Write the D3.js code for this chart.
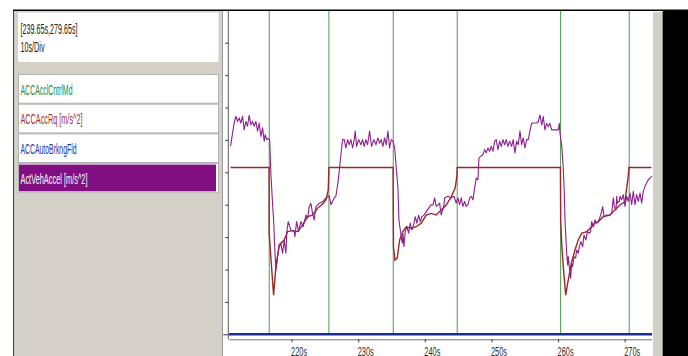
<!DOCTYPE html>
<html>
<head>
<meta charset="utf-8">
<script src="https://cdn.jsdelivr.net/npm/d3@7"></script>
<style>
  html, body { margin: 0; padding: 0; background: #ffffff; overflow: hidden; }
  svg { display: block; }
</style>
</head>
<body>
<svg id="chart" width="688" height="356"></svg>
<script>
// ---- signal data -------------------------------------------------------
const windowLabel = "[239.65s,279.65s]";
const divLabel = "10s/Div";
const signalNames = ["ACCAcclCntrlMd", "ACCAccRq [m/s^2]", "ACCAutoBrkngFld", "ActVehAccel [m/s^2]"];
const timeTicks = [220, 230, 240, 250, 260, 270];
const accelTicks = [-5, -4, -3, -2, -1, 0, 1, 2, 3, 4];

// ACCAcclCntrlMd: instants where the control mode switches (s)
const modeChangeTimes = [216.64, 225.6, 235.26, 244.86, 260.38, 270.68];

// ACCAutoBrkngFld: flag, stays 0
const autoBrkFld = [[210.6, 0], [274.1, 0]];

// ACCAccRq [m/s^2]: [time s, value]
const accRq = [
  [210.84,0.15],[216.62,0.15],[216.64,-1.90],[216.97,-2.86],[217.30,-3.79],[217.64,-2.91],
  [218.14,-2.24],[218.89,-2.09],[219.40,-1.83],[220.15,-1.80],[220.90,-1.83],[221.65,-1.63],
  [222.40,-1.37],[223.15,-1.32],[223.90,-1.11],[224.65,-0.98],[225.15,-0.85],[225.50,-0.55],
  [225.60,0.15],[235.24,0.15],[235.29,-2.30],[235.52,-2.71],[235.86,-2.65],[236.22,-2.09],
  [236.71,-1.83],[237.21,-1.68],[237.96,-1.73],[238.71,-1.68],[239.46,-1.57],[240.21,-1.32],
  [240.96,-1.27],[241.71,-1.32],[242.46,-1.16],[243.21,-1.01],[243.96,-0.76],[244.56,-0.48],
  [244.82,-0.11],[244.86,0.15],[260.35,0.15],[260.39,-1.47],[260.54,-2.19],[260.78,-2.91],
  [261.14,-3.79],[261.53,-3.32],[262.04,-2.76],[262.54,-2.40],[263.03,-2.09],[263.54,-1.88],
  [264.29,-1.83],[265.05,-1.68],[265.54,-1.57],[266.04,-1.52],[266.79,-1.37],[267.79,-1.32],
  [268.54,-1.16],[269.29,-1.01],[270.04,-0.91],[270.30,-0.48],[270.54,-0.11],[270.64,0.15],
  [274.02,0.15]
];

// ActVehAccel [m/s^2]: [time s, value]
const vehAccel = [
  [210.84,0.81],[211.14,1.21],[211.38,1.52],[211.64,1.73],[211.89,1.57],[212.13,1.68],[212.39,1.52],
  [212.64,1.73],[212.88,1.31],[213.14,1.57],[213.39,1.42],[213.63,1.76],[213.89,1.47],[214.14,1.57],
  [214.38,1.42],[214.64,1.57],[214.89,1.27],[215.14,1.52],[215.39,1.11],[215.65,1.37],[215.89,0.96],
  [216.04,1.16],[216.25,1.01],[216.55,1.04],[216.70,1.01],[216.90,-0.07],[217.15,-1.00],[217.30,-1.47],
  [217.49,-2.40],[217.64,-3.02],[217.79,-2.81],[217.90,-2.60],[218.14,-2.30],[218.39,-2.19],[218.65,-2.50],
  [218.89,-2.09],[219.14,-2.50],[219.29,-1.83],[219.49,-1.52],[219.89,-1.78],[220.39,-1.83],[220.50,-1.99],
  [220.75,-1.52],[221.05,-1.83],[221.40,-1.52],[221.74,-1.68],[222.15,-1.32],[222.40,-1.42],[222.64,-1.06],
  [222.90,-0.96],[223.15,-1.27],[223.39,-1.47],[223.65,-1.06],[224.14,-0.96],[224.65,-0.91],[225.15,-0.79],
  [225.65,-0.73],[225.91,-1.00],[226.40,-0.79],[226.66,-0.73],[226.92,-0.38],[227.15,0.03],[227.40,0.54],
  [227.66,1.01],[227.90,1.01],[228.15,0.75],[228.41,1.01],[228.65,0.85],[228.90,1.01],[229.16,0.75],
  [229.40,1.01],[229.55,1.27],[229.76,0.80],[230.06,1.01],[230.41,0.85],[230.66,1.01],[230.90,0.80],
  [231.16,1.01],[231.41,0.85],[231.71,1.27],[232.01,0.80],[232.36,1.01],[232.66,0.85],[232.96,1.06],
  [233.21,0.90],[233.45,1.01],[233.71,0.80],[233.96,1.06],[234.20,0.85],[234.46,1.27],[234.71,0.75],
  [234.96,1.01],[235.21,0.96],[235.47,0.75],[235.71,0.13],[235.96,-0.48],[236.11,-1.47],[236.31,-1.78],
  [236.46,-1.99],[236.61,-2.19],[236.71,-1.88],[236.86,-2.30],[237.06,-1.83],[237.31,-1.68],[237.57,-1.88],
  [237.81,-1.57],[238.06,-1.78],[238.32,-1.63],[238.56,-1.37],[238.81,-1.57],[239.07,-1.32],[239.31,-1.52],
  [239.56,-1.37],[239.86,-1.32],[240.21,-1.22],[240.72,-1.06],[240.96,-1.00],[241.22,-1.01],[241.47,-0.79],
  [241.71,-1.05],[241.97,-1.01],[242.22,-0.95],[242.46,-1.32],[242.87,-1.01],[242.97,-0.79],[243.47,-0.74],
  [243.96,-0.79],[244.37,-0.74],[244.71,-0.95],[244.96,-0.79],[245.22,-1.00],[245.46,-0.79],[245.72,-1.05],
  [245.98,-0.90],[246.22,-1.05],[246.47,-1.00],[246.73,-0.79],[246.97,-0.74],[247.22,-0.85],[247.48,-0.48],
  [247.72,-0.18],[247.97,-0.23],[248.12,0.44],[248.38,0.49],[248.72,0.54],[248.98,0.70],[249.22,0.60],
  [249.47,0.75],[249.73,0.65],[249.97,0.80],[250.23,0.65],[250.48,0.96],[250.72,1.01],[250.98,0.70],
  [251.23,0.96],[251.47,0.80],[251.73,1.01],[251.98,0.85],[252.22,1.01],[252.48,0.80],[252.73,0.96],
  [253.03,0.80],[253.27,1.01],[253.53,0.60],[253.78,0.96],[254.02,0.85],[254.28,1.27],[254.53,0.85],
  [254.77,1.06],[255.03,0.75],[255.28,1.01],[255.52,1.01],[255.78,1.27],[256.03,1.51],[256.27,1.52],
  [256.78,1.52],[257.03,1.56],[257.28,1.77],[257.54,1.46],[257.78,1.72],[258.03,1.31],[258.29,1.51],
  [258.53,1.41],[258.78,1.51],[259.04,1.31],[259.53,1.31],[260.03,1.31],[260.18,1.51],[260.29,1.20],
  [260.54,0.84],[260.78,0.13],[260.93,-0.59],[261.04,-1.47],[261.29,-2.50],[261.44,-2.86],[261.53,-2.60],
  [261.68,-2.91],[261.89,-3.27],[262.04,-2.81],[262.19,-2.91],[262.39,-2.60],[262.64,-2.65],[262.79,-2.40],
  [263.03,-2.50],[263.18,-2.30],[263.44,-2.14],[263.69,-2.30],[263.89,-1.94],[264.19,-2.09],[264.39,-1.83],
  [264.69,-1.88],[264.89,-1.83],[265.05,-1.52],[265.29,-1.68],[265.54,-1.47],[265.80,-1.57],[266.04,-1.52],
  [266.40,-1.32],[266.70,-1.06],[266.89,-1.37],[267.30,-1.32],[267.79,-1.32],[268.05,-1.27],[268.29,-0.79],
  [268.45,-1.06],[268.69,-1.16],[268.80,-0.74],[268.89,-0.96],[269.04,-0.90],[269.19,-0.91],[269.29,-0.74],
  [269.54,-0.85],[269.79,-0.69],[270.04,-1.05],[270.30,-0.74],[270.54,-0.90],[270.79,-0.64],[271.05,-1.00],
  [271.29,-0.59],[271.55,-1.00],[271.80,-0.69],[272.04,-0.90],[272.30,-0.64],[272.55,-0.95],[272.79,-0.59],
  [273.05,-0.43],[273.30,-0.33],[273.54,-0.23],[273.80,-0.18],[274.10,-0.12]
];

// ---- layout --------------------------------------------------------------
const svg = d3.select("#chart");
const FONT = "'Liberation Sans Narrow', 'Arial Narrow', 'Liberation Sans', Arial, sans-serif";
const panelGrey = "#d4d0c8";

const plot = { left: 228.3, right: 652, top: 10.3, bottom: 334.3, axisY: 339.3 };

const x = d3.scaleLinear().domain([210.5, 274.1]).range([plot.left, plot.right]);
const y = d3.scaleLinear().domain([-5, 5]).range([plot.bottom, plot.top]);
const yFlag = d3.scaleLinear().domain([0, 1]).range([plot.bottom, plot.top]);

// white page
svg.append("rect").attr("width", 688).attr("height", 356).attr("fill", "#ffffff");

// left signal panel
svg.append("rect").attr("x", 13).attr("y", 10).attr("width", 209.5).attr("height", 346).attr("fill", panelGrey);
svg.append("line").attr("x1", 13.5).attr("x2", 13.5).attr("y1", 10).attr("y2", 356)
  .attr("stroke", "#404040").attr("stroke-width", 1);
svg.append("line").attr("x1", 222.5).attr("x2", 222.5).attr("y1", 11).attr("y2", 356)
  .attr("stroke", "#9a9a9a").attr("stroke-width", 1);

// time window box
svg.append("rect").attr("x", 18).attr("y", 12.5).attr("width", 200.5).attr("height", 49.5).attr("fill", "#ffffff");
const infoText = svg.append("g").attr("font-family", FONT).attr("font-size", 14.5).attr("fill", "#1a1a1a");
infoText.append("text").attr("x", 20.5).attr("y", 34).text(windowLabel)
  .attr("textLength", 57).attr("lengthAdjust", "spacingAndGlyphs");
infoText.append("text").attr("x", 20.5).attr("y", 51.5).text(divLabel)
  .attr("textLength", 24).attr("lengthAdjust", "spacingAndGlyphs");

// signal legend boxes
const legendTop = 74, legendStep = 29.7;
const legendColors = ["#2b8a2b", "#a53030", "#27309c", "#ffffff"];
const legendWidths = [52, 62, 56, 67];
const legend = svg.append("g");
signalNames.forEach((name, i) => {
  const y0 = legendTop + i * legendStep;
  legend.append("rect").attr("x", 18.5).attr("y", y0 + 0.5).attr("width", 200).attr("height", legendStep - 1)
    .attr("fill", "#ffffff").attr("stroke", "#b4b4b4").attr("stroke-width", 1);
  if (i === signalNames.length - 1) {
    legend.append("rect").attr("x", 19).attr("y", y0 + 1.5).attr("width", 197).attr("height", legendStep - 3)
      .attr("fill", "#810f81");
  }
  legend.append("text").attr("x", 20.5).attr("y", y0 + 20.5)
    .attr("font-family", FONT).attr("font-size", 15).attr("fill", legendColors[i])
    .attr("textLength", legendWidths[i]).attr("lengthAdjust", "spacingAndGlyphs")
    .text(name);
});

// clip for the traces
svg.append("clipPath").attr("id", "plotClip")
  .append("rect").attr("x", plot.left).attr("y", plot.top).attr("width", plot.right - plot.left + 2)
  .attr("height", plot.axisY - plot.top);

const traces = svg.append("g").attr("clip-path", "url(#plotClip)");

// ACCAcclCntrlMd mode switches
traces.selectAll("line.mode").data(modeChangeTimes).join("line")
  .attr("class", "mode")
  .attr("x1", d => x(d)).attr("x2", d => x(d))
  .attr("y1", plot.top).attr("y2", plot.bottom)
  .attr("stroke", "#4c9c4c").attr("stroke-width", 1);

const line = d3.line().x(d => x(d[0])).y(d => y(d[1]));
const flagLine = d3.line().x(d => x(d[0])).y(d => yFlag(d[1]));

// ACCAutoBrkngFld
traces.append("path").datum(autoBrkFld).attr("d", flagLine)
  .attr("fill", "none").attr("stroke", "#1d2d9c").attr("stroke-width", 2.5);

// ACCAccRq
traces.append("path").datum(accRq).attr("d", line)
  .attr("fill", "none").attr("stroke", "#9e2626").attr("stroke-width", 1.4)
  .attr("stroke-linejoin", "miter");

// ActVehAccel
traces.append("path").datum(vehAccel).attr("d", line)
  .attr("fill", "none").attr("stroke", "#8e1f8e").attr("stroke-width", 1.1)
  .attr("stroke-linejoin", "round");

// y axis (unlabelled ticks)
const yAxis = svg.append("g").attr("transform", `translate(${plot.left},0)`)
  .call(d3.axisLeft(y).tickValues(accelTicks).tickSize(3).tickFormat(""));
yAxis.select(".domain").remove();
yAxis.selectAll(".tick line").attr("stroke", "#333333");
yAxis.selectAll(".tick").filter(d => d === -5).select("line").attr("x2", -5);
svg.append("line").attr("x1", plot.left).attr("x2", plot.left).attr("y1", plot.top).attr("y2", plot.axisY)
  .attr("stroke", "#5a5a5a").attr("stroke-width", 1);

// time axis
const xAxis = svg.append("g").attr("transform", `translate(0,${plot.axisY})`)
  .call(d3.axisBottom(x).tickValues(timeTicks).tickSize(3).tickSizeOuter(0).tickFormat(d => d + "s"));
xAxis.select(".domain").attr("stroke", "#707070").attr("d", `M${plot.left + 1},0.5H${plot.right}`);
xAxis.selectAll(".tick line").attr("stroke", "#333333");
xAxis.selectAll(".tick text")
  .attr("font-family", FONT).attr("font-size", 12.5).attr("fill", "#2a2a2a")
  .attr("text-anchor", "start").attr("x", -1).attr("y", 16.3).attr("dy", 0)
  .attr("textLength", 16).attr("lengthAdjust", "spacingAndGlyphs");

// frame top edge, scrollbar and dark right margin
svg.append("rect").attr("x", 653).attr("y", 12).attr("width", 10).attr("height", 344).attr("fill", panelGrey);
svg.append("rect").attr("x", 662.7).attr("y", 9.5).attr("width", 26).attr("height", 347).attr("fill", "#000000");
svg.append("line").attr("x1", 13).attr("x2", 663).attr("y1", 10.3).attr("y2", 10.3)
  .attr("stroke", "#000000").attr("stroke-width", 1.6);
</script>
</body>
</html>
